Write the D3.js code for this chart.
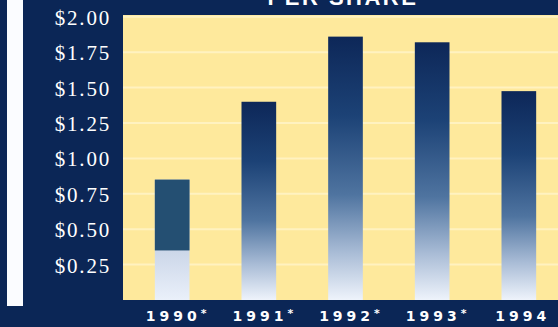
<!DOCTYPE html>
<html>
<head>
<meta charset="utf-8">
<script src="https://cdn.jsdelivr.net/npm/d3@7"></script>
<style>
  html, body { margin: 0; padding: 0; background: #0b2656; }
  svg { display: block; }
</style>
</head>
<body>
<svg id="chart"></svg>
<script>
// data
const years = ['1990', '1991', '1992', '1993', '1994']
const marks = ['*', '*', '*', '*', '']
const earnings = [0.85, 1.40, 1.86, 1.82, 1.475]
// 1990 bar is drawn solid from its top down to this value
const solidTo = [0.35, null, null, null, null]
const yTicks = [0.25, 0.5, 0.75, 1.0, 1.25, 1.5, 1.75, 2.0]
const title = 'PER SHARE'

const W = 558, H = 327
const plot = { left: 123, right: 558, top: 15, bottom: 300 }

const svg = d3.select('#chart').attr('width', W).attr('height', H)

svg.append('rect').attr('width', W).attr('height', H).attr('fill', '#0b2656')

// white strip on the left
svg.append('rect')
  .attr('x', 7).attr('y', 0).attr('width', 16).attr('height', 306)
  .attr('fill', '#fbfcff')

const defs = svg.append('defs')
const grad = defs.append('linearGradient')
  .attr('id', 'barGrad').attr('x1', 0).attr('y1', 0).attr('x2', 0).attr('y2', 1)
grad.selectAll('stop')
  .data([[0, '#0d2758'], [0.3, '#1c4276'], [0.6, '#4f74a0'], [0.82, '#a9bcd6'], [1, '#eef3fb']])
  .join('stop')
  .attr('offset', d => d[0])
  .attr('stop-color', d => d[1])

const grad90 = defs.append('linearGradient')
  .attr('id', 'barGrad90').attr('x1', 0).attr('y1', 0).attr('x2', 0).attr('y2', 1)
grad90.selectAll('stop')
  .data([[0, '#9fb2cf'], [1, '#eaf0fa']])
  .join('stop')
  .attr('offset', d => d[0])
  .attr('stop-color', d => d[1])

const y = d3.scaleLinear().domain([0, 2]).range([plot.bottom, plot.bottom - 2 * 141.6])
const x = d3.scaleBand().domain(years).range([137.5, 553.5])
  .paddingInner(0.6).paddingOuter(0.2)

// yellow plot area
svg.append('rect')
  .attr('x', plot.left).attr('y', plot.top)
  .attr('width', plot.right - plot.left).attr('height', plot.bottom - plot.top)
  .attr('fill', '#fee99c')

// faint grid
svg.append('g')
  .selectAll('line')
  .data(yTicks)
  .join('line')
  .attr('x1', plot.left).attr('x2', plot.right)
  .attr('y1', d => y(d)).attr('y2', d => y(d))
  .attr('stroke', '#fff2c0').attr('stroke-width', 2)

// bars
const bars = svg.append('g')
bars.selectAll('rect.bar')
  .data(years)
  .join('rect')
  .attr('class', 'bar')
  .attr('x', d => x(d))
  .attr('y', (d, i) => y(earnings[i]))
  .attr('width', x.bandwidth())
  .attr('height', (d, i) => y(0) - y(earnings[i]))
  .attr('fill', (d, i) => solidTo[i] != null ? 'url(#barGrad90)' : 'url(#barGrad)')

bars.selectAll('rect.solid')
  .data(years.filter((d, i) => solidTo[i] != null))
  .join('rect')
  .attr('class', 'solid')
  .attr('x', d => x(d))
  .attr('y', d => y(earnings[years.indexOf(d)]))
  .attr('width', x.bandwidth())
  .attr('height', d => y(solidTo[years.indexOf(d)]) - y(earnings[years.indexOf(d)]))
  .attr('fill', '#244f72')

// y axis labels
const yAxis = svg.append('g')
  .attr('transform', 'translate(111,0)')
  .call(d3.axisLeft(y).tickValues(yTicks).tickSize(0).tickPadding(0).tickFormat(d => '$' + d.toFixed(2)))
yAxis.select('.domain').remove()
yAxis.selectAll('text')
  .attr('fill', '#ffffff')
  .attr('dy', '0.36em')
  .style('font-family', '"Liberation Serif", "Times New Roman", serif')
  .style('font-size', '21px')
  .style('letter-spacing', '1.8px')

// x labels
const xl = svg.append('g')
  .selectAll('text')
  .data(years)
  .join('text')
  .attr('x', d => x(d) + x.bandwidth() / 2 + 4)
  .attr('y', 321)
  .attr('text-anchor', 'middle')
  .attr('fill', '#ffffff')
  .style('font-family', '"DejaVu Sans", sans-serif')
  .style('font-weight', 'bold')
  .style('font-size', '14px')
  .style('letter-spacing', '4px')
xl.append('tspan').text(d => d)
xl.append('tspan')
  .attr('dy', -4)
  .style('font-size', '11px')
  .style('letter-spacing', '0px')
  .text((d, i) => marks[i])

// title, cut off at the top edge as in the source
svg.append('text')
  .attr('x', 343).attr('y', 5)
  .attr('text-anchor', 'middle')
  .attr('fill', '#ffffff')
  .style('font-family', '"Liberation Sans", Arial, sans-serif')
  .style('font-weight', 'bold')
  .style('font-size', '22px')
  .style('letter-spacing', '2.5px')
  .text(title)
</script>
</body>
</html>
